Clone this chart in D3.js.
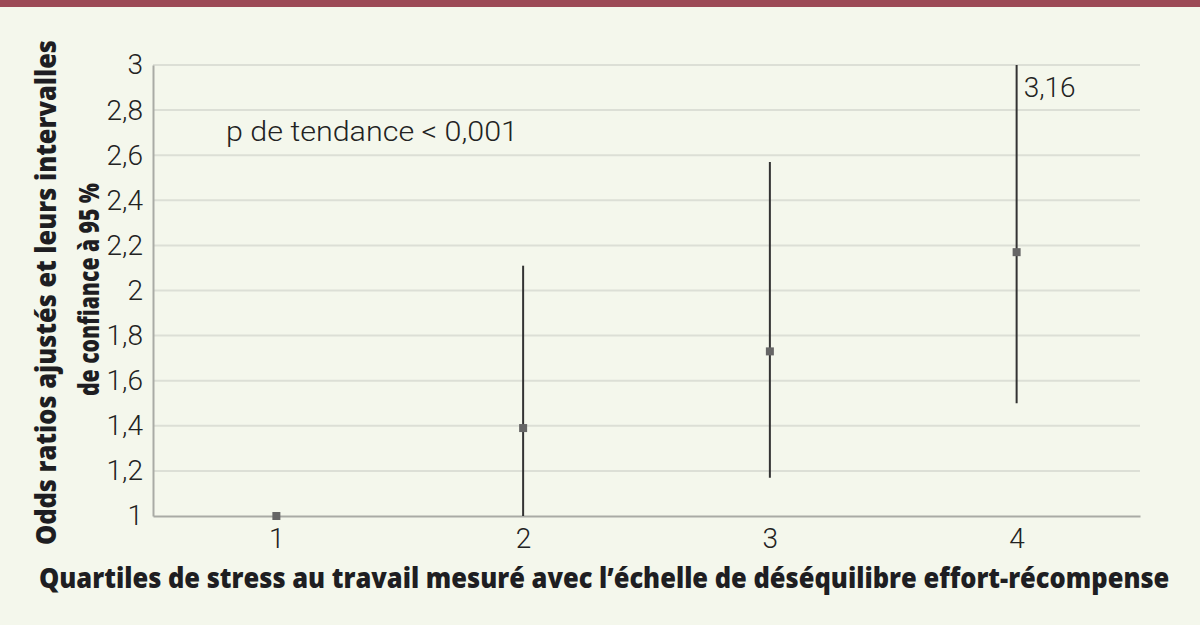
<!DOCTYPE html>
<html><head><meta charset="utf-8">
<script src="https://cdn.jsdelivr.net/npm/d3@7"></script>
<style>html,body{margin:0;padding:0;background:#f4f7ec;}svg{display:block;}</style>
</head><body>
<svg id="c" width="1200" height="625"></svg>
<script>
const categories = ["1","2","3","4"];
const oddsRatios = [1.0, 1.39, 1.73, 2.17];
const ciLower = [1.0, 1.0, 1.17, 1.50];
const ciUpper = [1.0, 2.11, 2.57, 3.16];
const yTicks = [1,1.2,1.4,1.6,1.8,2,2.2,2.4,2.6,2.8,3];
const yTitleLines = ["Odds ratios ajustés et leurs intervalles","de confiance à 95 %"];
const xTitle = "Quartiles de stress au travail mesuré avec l’échelle de déséquilibre effort-récompense";
const note = "p de tendance < 0,001";

const svg = d3.select("#c");
const W=1200,H=625;
const thin = "Roboto, 'DejaVu Sans Condensed', sans-serif";
const bold = "'Open Sans', sans-serif";
svg.append("rect").attr("width",W).attr("height",H).attr("fill","#f4f7ec");
svg.append("rect").attr("x",0).attr("y",0).attr("width",W).attr("height",7).attr("fill","#9c4a56");

const L=153,R=1140,T=65,B=516;
const x = d3.scalePoint().domain(categories).range([L,R]).padding(0.5);
const y = d3.scaleLinear().domain([1,3]).range([B,T]);
const fmt = v => d3.format(".1~f")(v).replace(".",",");
const fmt2 = v => d3.format(".2~f")(v).replace(".",",");

// fit a text to a target width with a horizontal scale
function fitText(sel, tx, ty, rot, target){
  const len = sel.node().getComputedTextLength();
  sel.attr("transform",`translate(${tx},${ty}) rotate(${rot}) scale(${target/len},1)`);
}

svg.append("g").selectAll("line").data(yTicks.filter(v=>v>1)).join("line")
  .attr("x1",L).attr("x2",R).attr("y1",d=>y(d)).attr("y2",d=>y(d))
  .attr("stroke","#dcdfd6").attr("stroke-width",2);

const ya = svg.append("g").attr("transform",`translate(${L},0)`)
  .call(d3.axisLeft(y).tickValues(yTicks).tickFormat(fmt).tickSize(0).tickPadding(10));
ya.select(".domain").attr("stroke","#a9aba5").attr("stroke-width",2);
ya.selectAll("text").attr("font-family",thin).attr("font-weight",300)
  .attr("font-size",28).attr("fill","#222");

const xa = svg.append("g").attr("transform",`translate(0,${B})`)
  .call(d3.axisBottom(x).tickSize(0).tickPadding(12));
xa.select(".domain").attr("stroke","#a9aba5").attr("stroke-width",2);
xa.selectAll("text").attr("font-family",thin).attr("font-weight",300)
  .attr("font-size",28).attr("fill","#222");

const data = categories.map((c,i)=>({c, or:oddsRatios[i], lo:ciLower[i], hi:ciUpper[i]}));
svg.append("g").selectAll("line").data(data.filter(d=>d.hi>d.lo)).join("line")
  .attr("x1",d=>x(d.c)).attr("x2",d=>x(d.c))
  .attr("y1",d=>y(Math.min(d.hi,3))).attr("y2",d=>y(d.lo))
  .attr("stroke","#333").attr("stroke-width",2);
svg.append("g").selectAll("rect").data(data).join("rect")
  .attr("x",d=>x(d.c)-4).attr("y",d=>y(d.or)-4).attr("width",8).attr("height",8)
  .attr("fill","#666");
svg.append("g").selectAll("text").data(data.filter(d=>d.hi>3)).join("text")
  .attr("x",d=>x(d.c)+7).attr("y",y(3)+32)
  .attr("font-family",thin).attr("font-weight",300)
  .attr("font-size",28).attr("fill","#222").text(d=>fmt2(d.hi));

const nt = svg.append("text")
  .attr("font-family",thin).attr("font-weight",300)
  .attr("font-size",28).attr("fill","#222").text(note);
fitText(nt,226,141,0,292);

const xt = svg.append("text")
  .attr("font-family",bold).attr("font-weight",800)
  .attr("font-size",29).attr("fill","#1e1e22").text(xTitle);
fitText(xt,39,588,0,1131);

const y1 = svg.append("text")
  .attr("font-family",bold).attr("font-weight",800)
  .attr("font-size",29).attr("fill","#1e1e22").text(yTitleLines[0]);
fitText(y1,56,545,-90,505);
const y2 = svg.append("text")
  .attr("font-family",bold).attr("font-weight",800)
  .attr("font-size",29).attr("fill","#1e1e22").text(yTitleLines[1]);
fitText(y2,99,396,-90,213);
</script>
</body></html>
